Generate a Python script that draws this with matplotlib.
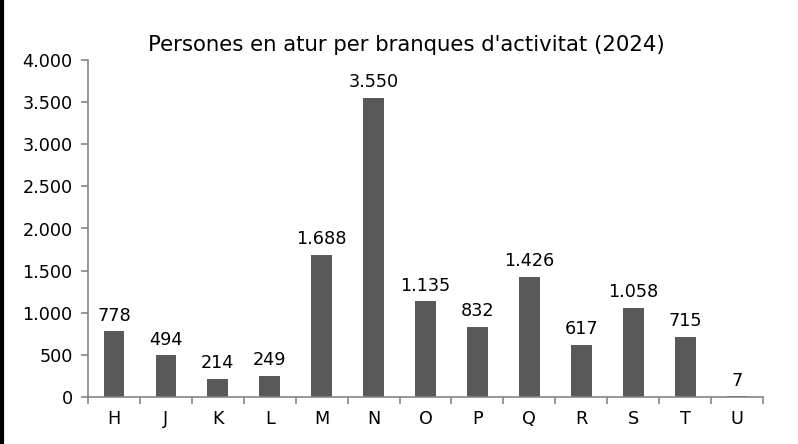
import matplotlib
matplotlib.use("Agg")
import matplotlib.pyplot as plt
from matplotlib.lines import Line2D
from matplotlib.ticker import FuncFormatter, MultipleLocator
import numpy as np

# --- Dades ---
categories = ["H", "J", "K", "L", "M", "N", "O", "P", "Q", "R", "S", "T", "U"]
values = [778, 494, 214, 249, 1688, 3550, 1135, 832, 1426, 617, 1058, 715, 7]
title = "Persones en atur per branques d'activitat (2024)"

plt.rcParams["font.family"] = ["DejaVu Sans"]
AXIS_COLOR = "#868686"
BAR_COLOR = "#595959"


def fmt_thousands(v, pos=None):
    return f"{int(round(v)):,}".replace(",", ".")


fig = plt.figure(figsize=(7.98, 4.44), dpi=100)
ax = fig.add_axes([88 / 798, 1 - 397 / 444, (763 - 88) / 798, (397 - 60) / 444])

x = np.arange(len(categories))
ax.bar(x, values, width=0.4, color=BAR_COLOR)

for xi, v in zip(x, values):
    ax.text(xi, v + 80, fmt_thousands(v), ha="center", va="bottom", fontsize=12.7, color="#000000")

ax.set_xlim(-0.5, len(categories) - 0.5)
ax.set_ylim(0, 4000)
ax.yaxis.set_major_locator(MultipleLocator(500))
ax.yaxis.set_major_formatter(FuncFormatter(fmt_thousands))

ax.set_xticks(x)
ax.set_xticklabels(categories)
ax.set_xticks(np.arange(-0.5, len(categories)), minor=True)
ax.tick_params(axis="x", which="major", length=0, pad=9, labelsize=12.7)
ax.tick_params(axis="x", which="minor", length=5, color=AXIS_COLOR, width=1.2)
ax.tick_params(axis="y", length=5, color=AXIS_COLOR, width=1.2, labelsize=12.7, pad=6)

for side in ["top", "right"]:
    ax.spines[side].set_visible(False)
for side in ["left", "bottom"]:
    ax.spines[side].set_color(AXIS_COLOR)
    ax.spines[side].set_linewidth(1.2)

fig.text(0.509, 1 - 45 / 444, title, ha="center", va="center", fontsize=15.3)

# línia negra a l'esquerra
fig.add_artist(Line2D([0.002, 0.002], [0, 1], transform=fig.transFigure, color="black", linewidth=3))

fig.savefig("out.png", dpi=100)
